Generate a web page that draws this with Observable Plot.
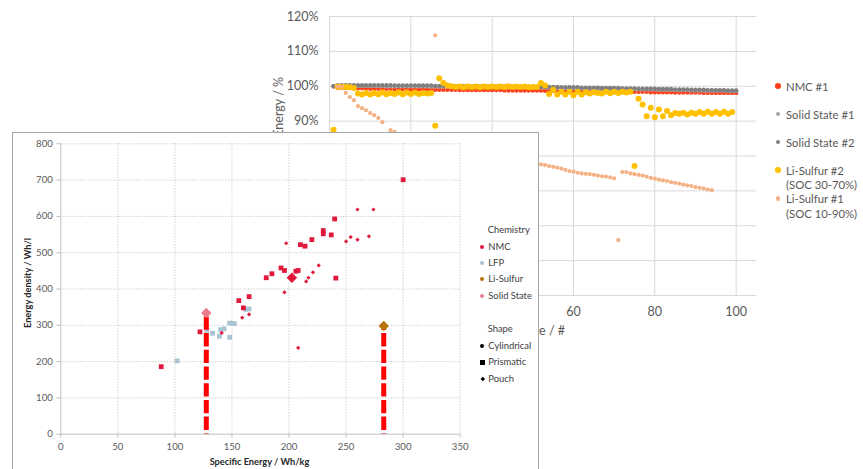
<!DOCTYPE html>
<html><head><meta charset="utf-8">
<script src="https://cdn.jsdelivr.net/npm/d3@7"></script>
<script src="https://cdn.jsdelivr.net/npm/@observablehq/plot@0.6"></script>
<style>
html,body{margin:0;padding:0;background:#fff;}
#wrap{position:relative;width:863px;height:469px;overflow:hidden;background:#fff;font-family:Lato,"Open Sans",sans-serif;}
#top{position:absolute;left:0;top:0;}
#box{position:absolute;left:12px;top:132px;width:525px;height:345px;border:1px solid #A6A6A6;background:#fff;}
#bottom{position:absolute;left:0;top:0;}
.lg{position:absolute;white-space:nowrap;}
.mk{position:absolute;}
</style></head><body>
<div id="wrap"><div id="top"></div><div id="box"><div id="bottom"></div></div></div>
<script>
// ---------- Top (background) chart: energy vs cycle ----------
const topSeries = ["NMC #1", "Solid State #1", "Solid State #2", "Li-Sulfur #2\n(SOC 30-70%)", "Li-Sulfur #1\n(SOC 10-90%)"];
const topColors = ["#FF3F1A", "#A5A5A5", "#7F7F7F", "#FFC000", "#F4B183"];
const cycleTicks = [0, 20, 40, 60, 80, 100];
const energyTicks = [40, 50, 60, 70, 80, 90, 100, 110, 120];

const nmc1 = [100.0, 99.6, 99.5, 99.5, 99.5, 99.4, 99.4, 99.4, 99.4, 99.3,
 99.3, 99.3, 99.3, 99.3, 99.2, 99.2, 99.2, 99.2, 99.2, 99.1,
 99.1, 99.1, 99.1, 99.1, 99.0, 99.0, 99.0, 99.0, 99.0, 99.0,
 99.0, 98.9, 98.9, 98.9, 98.9, 98.9, 98.9, 98.9, 98.9, 98.9,
 98.9, 98.9, 98.8, 98.8, 98.8, 98.8, 98.8, 98.8, 98.8, 98.8,
 98.8, 98.8, 98.7, 98.7, 98.7, 98.7, 98.7, 98.7, 98.7, 98.7,
 98.6, 98.6, 98.6, 98.6, 98.6, 98.6, 98.5, 98.5, 98.5, 98.5,
 98.5, 98.5, 98.4, 98.4, 98.4, 98.4, 98.4, 98.4, 98.3, 98.3,
 98.3, 98.3, 98.3, 98.3, 98.2, 98.2, 98.2, 98.2, 98.2, 98.2,
 98.2, 98.1, 98.1, 98.1, 98.1, 98.1, 98.1, 98.1, 98.1, 98.1];

const solid1 = [100.0, 100.1, 100.1, 100.1, 100.1, 100.1, 100.1, 100.1, 100.1, 100.1,
 100.1, 100.1, 100.1, 100.0, 100.0, 100.0, 100.0, 100.0, 100.0, 100.0,
 100.0, 100.0, 100.0, 100.0, 99.9, 99.9, 99.9, 99.9, 99.9, 99.9,
 99.9, 99.9, 99.9, 99.8, 99.8, 99.8, 99.8, 99.8, 99.8, 99.8,
 99.8, 99.8, 99.7, 99.7, 99.7, 99.7, 99.7, 99.7, 99.7, 99.6,
 99.6, 99.6, 99.6, 99.6, 99.6, 99.5, 99.5, 99.5, 99.5, 99.5,
 99.5, 99.4, 99.4, 99.4, 99.4, 99.4, 99.3, 99.3, 99.3, 99.3,
 99.3, 99.2, 99.2, 99.2, 99.2, 99.1, 99.1, 99.1, 99.1, 99.1,
 99.0, 99.0, 99.0, 99.0, 98.9, 98.9, 98.9, 98.9, 98.8, 98.8,
 98.8, 98.8, 98.7, 98.7, 98.7, 98.7, 98.7, 98.6, 98.6, 98.6];

const solid2 = [100.0, 100.3, 100.3, 100.3, 100.3, 100.3, 100.3, 100.3, 100.3, 100.3,
 100.3, 100.3, 100.3, 100.3, 100.3, 100.2, 100.2, 100.2, 100.2, 100.2,
 100.2, 100.2, 100.2, 100.2, 100.2, 100.1, 100.1, 100.1, 100.1, 100.1,
 100.1, 100.1, 100.1, 100.1, 100.0, 100.0, 100.0, 100.0, 100.0, 100.0,
 100.0, 100.0, 100.0, 99.9, 99.9, 99.9, 99.9, 99.9, 99.9, 99.9,
 99.8, 99.8, 99.8, 99.8, 99.8, 99.8, 99.7, 99.7, 99.7, 99.7,
 99.7, 99.6, 99.6, 99.6, 99.6, 99.6, 99.5, 99.5, 99.5, 99.5,
 99.5, 99.4, 99.4, 99.4, 99.4, 99.3, 99.3, 99.3, 99.3, 99.3,
 99.2, 99.2, 99.2, 99.2, 99.1, 99.1, 99.1, 99.1, 99.0, 99.0,
 99.0, 99.0, 98.9, 98.9, 98.9, 98.9, 98.9, 98.8, 98.8, 98.8];

const liS2 = [87.5,
 99.9, 99.8, 99.8, 99.7, 99.5,
 97.9, 97.6, 98.1, 97.6, 98.1, 97.7, 98.2, 97.7, 98.1, 97.8, 98.2, 97.7, 98.2, 97.8, 98.2, 97.8, 98.1, 97.9, 98.1,
 88.7, 102.3, 100.9, 100.2,
 100.0, 99.8, 99.9, 99.7, 99.9, 99.8, 99.9, 99.7, 99.9, 99.8, 99.9, 99.8, 99.9, 99.8, 100.0, 99.8, 99.9, 99.8, 99.9, 99.7, 99.8,
 99.8, 100.9, 100.2,
 97.8, 99.0, 97.6, 98.4, 97.6, 98.4, 97.4, 98.4, 97.6, 98.3, 97.9, 98.3, 98.1, 97.9, 98.4, 98.0, 98.4, 98.1, 98.4, 98.2, 98.4,
 77.1,
 96.4, 94.8, 91.4, 93.8, 91.1, 93.3, 91.4, 92.9, 91.7, 92.3, 92.1, 92.4, 91.9, 92.4, 92.1, 92.6, 92.1, 92.7, 92.1, 92.6, 92.1, 92.7, 92.1, 92.6];

// null = not visible in the reference (hidden behind the front chart)
const liS1 = [null, 100.0, 99.8, 98.1, 96.9, 96.0, 94.3, 93.7, 93.1, 92.3, 91.7, 90.9, 89.7, null, 87.4, 86.9, 86.3,
 null, null, null, null, null, null, null, null,
 114.6,
 null, null, null, null, null, null, null, null, null, null, null, null, null, null, null, null, null, null, null, null, null, null, null, null, null,
 77.6, 77.4, 77.1, 76.9, 76.7, 76.4, 76.0, 75.7, 75.5, 75.2, 75.0, 74.9, 74.8, 74.6, 74.4, 74.2, 74.1, 73.9, 73.6,
 55.9,
 75.4, 75.4, 75.0, 74.8, 74.6, 74.4, 74.1, 73.7, 73.5, 73.2, 73.0, 72.8, 72.5, 72.3, 72.1, 71.8, 71.6, 71.4, 71.1, 70.9, 70.7, 70.4, 70.2];

// ---------- Front chart: energy density vs specific energy ----------
const chemistries = ["NMC", "LFP", "Li-Sulfur", "Solid State"];
const chemColors = ["#E0183C", "#A9C3D3", "#B8720A", "#EA7C8E"];
const shapes = ["Cylindrical", "Prismatic", "Pouch"];
const xTicks = [0, 50, 100, 150, 200, 250, 300, 350];
const yTicks = [0, 100, 200, 300, 400, 500, 600, 700, 800];

const nmcPrismatic = [[88,186],[122,282],[156,368],[160,348],[165,379],[180,431],[185,442],[193,458],[196,451],[206,449],[208,451],[210,522],[214,518],[220,536],[230,561],[230,552],[237,549],[240,593],[241,430],[300,701]];
const nmcPouch = [[141,279],[159,321],[165,330],[196,391],[197.5,526],[208,238],[215,421],[217,431],[221,446],[226,465],[250,531],[254,543],[260,536],[260,619],[270,545],[274,619]];
const lfpPrismatic = [[102,202],[128,286],[133,278],[139,270],[140,288],[143,290],[148,306],[148,267],[152,305],[162,344],[165,345]];
const highlights = [["NMC",202.5,431],["Solid State",127.5,334],["Li-Sulfur",283,298]];
const dashedChem = ["Solid State", "Li-Sulfur"];

// ---------- Build top chart ----------
const topSeriesData = [nmc1, solid1, solid2, liS2, liS1];
const txt = "#595959";
const topMarks = [
  Plot.ruleX(cycleTicks, {stroke: "#D9D9D9", strokeWidth: 1}),
  Plot.ruleY(energyTicks, {stroke: "#D9D9D9", strokeWidth: 1}),
  Plot.axisX({ticks: cycleTicks, tickSize: 0, tickPadding: 12, label: null, fill: txt}),
  Plot.axisY({ticks: energyTicks, tickSize: 0, tickPadding: 11, label: null, fill: txt, tickFormat: d => d + "%"})
];
const topR = [2.2, 2.2, 2.2, 3, 2.1];
topSeriesData.forEach((vals, si) => {
  const pts = vals.map((v, i) => ({cycle: i + 1, energy: v})).filter(d => d.energy != null);
  topMarks.push(Plot.dot(pts, {x: "cycle", y: "energy", r: topR[si], fill: topColors[si]}));
});
const topPlot = Plot.plot({
  width: 863, height: 340,
  marginLeft: 329, marginRight: 107, marginTop: 16, marginBottom: 45,
  x: {domain: [0, 105]},
  y: {domain: [40, 120]},
  style: {fontFamily: "Lato, 'Open Sans', sans-serif", fontSize: "12.5px", color: txt, background: "transparent", overflow: "visible"},
  marks: topMarks
});
document.getElementById("top").appendChild(topPlot);
const ts = d3.select(topPlot);
ts.append("text").attr("transform", "translate(279,77) rotate(-90)").attr("text-anchor", "end").attr("dy", "0.35em")
  .attr("fill", txt).style("font-size", "12.5px").text("Energy / %");
ts.append("text").attr("x", 565).attr("y", 331).attr("text-anchor", "end").attr("dy", "0.35em")
  .attr("fill", txt).style("font-size", "12.5px").text("Cycle / #");

// legends helpers
const wrap = d3.select("#wrap");
function marker(parent, cx, cy, r, color, shape) {
  const m = parent.append("div").attr("class", "mk")
    .style("left", (cx - r) + "px").style("top", (cy - r) + "px")
    .style("width", (2 * r) + "px").style("height", (2 * r) + "px").style("background", color);
  if (shape === "circle") m.style("border-radius", "50%");
  if (shape === "diamond") m.style("transform", "rotate(45deg) scale(0.8)");
}
function label(parent, x, cy, text, size, lh, color, gap) {
  text.split("\n").forEach((line, k) => {
    parent.append("div").attr("class", "lg")
      .style("left", x + "px").style("top", (cy + k * (gap || 0) - lh / 2) + "px")
      .style("font-size", size + "px").style("line-height", lh + "px")
      .style("color", color).text(line);
  });
}
const topLegendY = [86, 114, 142, 170, 198.5];
const topLegendR = [2.8, 2.3, 2.3, 2.8, 2.3];
topSeries.forEach((name, i) => {
  marker(wrap, 778, topLegendY[i], topLegendR[i], topColors[i], "circle");
  label(wrap, 786, topLegendY[i], name, 11.3, 11, txt, 14.5);
});

// ---------- Build front chart ----------
const box = d3.select("#box");
const colorOf = c => chemColors[chemistries.indexOf(c)];
const tick = "#595959";
const botPlot = Plot.plot({
  width: 525, height: 340,
  marginLeft: 47.3, marginRight: 78.3, marginTop: 10.3, marginBottom: 39.3,
  x: {domain: [0, 350]},
  y: {domain: [0, 800]},
  style: {fontFamily: "Lato, 'Open Sans', sans-serif", fontSize: "9.6px", color: tick, background: "white", overflow: "visible"},
  marks: [
    Plot.ruleX(xTicks.filter(d => d > 0), {stroke: "#C8C8C8", strokeDasharray: "1.2,1.6"}),
    Plot.ruleY(yTicks.filter(d => d > 0), {stroke: "#C8C8C8", strokeDasharray: "1.2,1.6"}),
    Plot.ruleX([0], {stroke: "#BFBFBF"}),
    Plot.ruleY([0], {stroke: "#BFBFBF"}),
    Plot.axisX({ticks: xTicks, tickSize: 4, tickPadding: 5, stroke: "#BFBFBF", fill: tick, label: null}),
    Plot.axisY({ticks: yTicks, tickSize: 4, tickPadding: 4, stroke: "#BFBFBF", fill: tick, label: null}),
    Plot.dot(lfpPrismatic, {x: d => d[0], y: d => d[1], symbol: "square", r: 2.7, fill: colorOf("LFP")}),
    Plot.dot(nmcPrismatic, {x: d => d[0], y: d => d[1], symbol: "square", r: 2.7, fill: colorOf("NMC")}),
    Plot.dot(nmcPouch, {x: d => d[0], y: d => d[1], symbol: "diamond2", r: 1.9, fill: colorOf("NMC")}),
    Plot.ruleX(highlights.filter(d => dashedChem.includes(d[0])), {x: d => d[1], y1: 0, y2: d => d[2], stroke: "#FF0000", strokeWidth: 5, strokeDasharray: "13.3,3.4", strokeDashoffset: 12.9}),
    Plot.dot(highlights, {x: d => d[1], y: d => d[2], symbol: "diamond2", r: 4.7, fill: d => colorOf(d[0])})
  ]
});
document.getElementById("bottom").appendChild(botPlot);
const bs = d3.select(botPlot);
bs.append("text").attr("x", 246.5).attr("y", 328.7).attr("text-anchor", "middle").attr("dy", "0.35em")
  .attr("fill", "#262626").style("font-size", "9.2px").style("font-weight", "bold").text("Specific Energy / Wh/kg");
bs.append("text").attr("transform", "translate(15,150) rotate(-90)").attr("text-anchor", "middle").attr("dy", "0.35em")
  .attr("fill", "#262626").style("font-size", "9.2px").style("font-weight", "bold").text("Energy density / Wh/l");

// front legend
const lgText = "#404040";
label(box, 474.7, 97, "Chemistry", 9.4, 12, lgText);
const chemY = [113.7, 130.3, 146.3, 162.7];
chemistries.forEach((c, i) => {
  marker(box, 469.3, chemY[i], 2.2, chemColors[i], "circle");
  label(box, 475.3, chemY[i], c, 9.4, 12, lgText);
});
label(box, 474.7, 196.3, "Shape", 9.4, 12, lgText);
const shapeY = [212.7, 229.3, 246];
const shapeKinds = ["circle", "square", "diamond"];
const shapeR = [2.2, 2.3, 1.8];
shapes.forEach((s, i) => {
  marker(box, 469.3, shapeY[i], shapeR[i], "#000", shapeKinds[i]);
  label(box, 475.3, shapeY[i], s, 9.4, 12, lgText);
});
</script></body></html>
